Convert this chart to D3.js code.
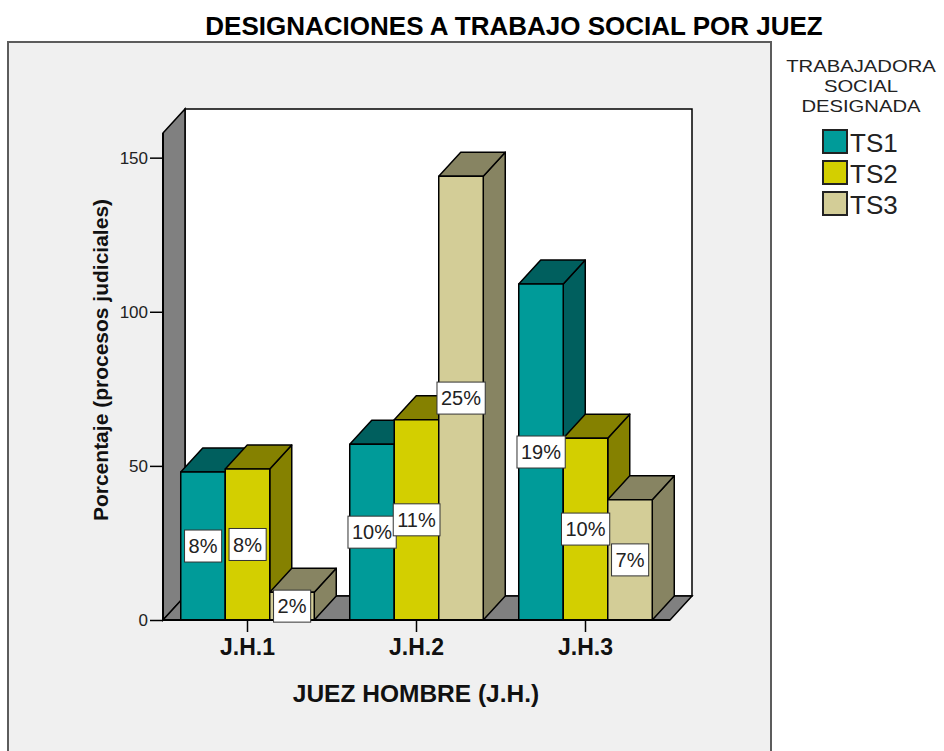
<!DOCTYPE html>
<html>
<head>
<meta charset="utf-8">
<script src="https://cdn.jsdelivr.net/npm/d3@7"></script>
<style>
  body { margin: 0; background: #fff; }
  svg { display: block; font-family: 'Liberation Sans', Arial, sans-serif; }
</style>
</head>
<body>
<div id="chart"></div>
<script>
const judges = ['J.H.1', 'J.H.2', 'J.H.3'];
const workers = ['TS1', 'TS2', 'TS3'];
const ts1 = [48, 57, 109];
const ts2 = [49, 65, 59];
const ts3 = [9, 144, 39];
const yTicks = [0, 50, 100, 150];
const legendTitle = ['TRABAJADORA', 'SOCIAL', 'DESIGNADA'];

const fronts = { TS1: '#009b99', TS2: '#d3cf00', TS3: '#d3cd97' };
const shades = { TS1: '#005f5e', TS2: '#858100', TS3: '#878462' };

function visualize() {
  const width = 944;
  const height = 751;
  const depth = { x: 22, y: 24 };
  const plot = { left: 163, right: 670, top: 133, bottom: 620 };

  const svg = d3.select('#chart').append('svg')
    .attr('width', width)
    .attr('height', height);

  // grey chart frame
  svg.append('rect')
    .attr('x', 8)
    .attr('y', 42)
    .attr('width', 763)
    .attr('height', 730)
    .attr('fill', '#f0f0f0')
    .attr('stroke', '#5c5c5c')
    .attr('stroke-width', 2);

  svg.append('text')
    .attr('x', 514)
    .attr('y', 35)
    .attr('text-anchor', 'middle')
    .attr('font-size', 26)
    .attr('font-weight', 'bold')
    .text('DESIGNACIONES A TRABAJO SOCIAL POR JUEZ');

  const x = d3.scaleBand()
    .domain(judges)
    .range([plot.left, plot.right])
    .paddingInner(0.21)
    .paddingOuter(0.105);
  const xs = d3.scaleBand()
    .domain(workers)
    .range([0, x.bandwidth()]);
  const y = d3.scaleLinear()
    .domain([0, 158])
    .range([plot.bottom, plot.top]);

  const pts = p => p.map(d => d.join(',')).join(' ');
  const y0 = y(0);
  const back = { left: plot.left + depth.x, right: plot.right + depth.x, top: plot.top - depth.y, bottom: y0 - depth.y };

  // walls and floor
  svg.append('polygon')
    .attr('points', pts([[back.left, back.top], [back.right, back.top], [back.right, back.bottom], [back.left, back.bottom]]))
    .attr('fill', '#fff')
    .attr('stroke', '#000')
    .attr('stroke-width', 1.5);
  svg.append('polygon')
    .attr('points', pts([[plot.left, plot.top], [back.left, back.top], [back.left, back.bottom], [plot.left, y0]]))
    .attr('fill', '#808080')
    .attr('stroke', '#000')
    .attr('stroke-width', 1.5);
  svg.append('polygon')
    .attr('points', pts([[plot.left, y0], [back.left, back.bottom], [back.right, back.bottom], [plot.right, y0]]))
    .attr('fill', '#808080')
    .attr('stroke', '#000')
    .attr('stroke-width', 1.5);

  const rows = judges.map((j, i) => ({ judge: j, values: [ts1[i], ts2[i], ts3[i]] }));
  const total = d3.sum(rows, r => d3.sum(r.values));
  const bars = rows.flatMap(r => r.values.map((v, k) => ({
    judge: r.judge,
    worker: workers[k],
    value: v,
    x0: x(r.judge) + xs(workers[k]),
  })));
  const w = xs.bandwidth();

  const bar = svg.append('g')
    .attr('stroke', '#000')
    .attr('stroke-width', 1.5)
    .attr('stroke-linejoin', 'round')
    .selectAll('g')
    .data(bars)
    .enter()
    .append('g');

  bar.append('polygon')
    .attr('fill', d => shades[d.worker])
    .attr('points', d => pts([
      [d.x0 + w, y(d.value)], [d.x0 + w + depth.x, y(d.value) - depth.y],
      [d.x0 + w + depth.x, y0 - depth.y], [d.x0 + w, y0]]));
  bar.append('polygon')
    .attr('fill', d => shades[d.worker])
    .attr('points', d => pts([
      [d.x0, y(d.value)], [d.x0 + depth.x, y(d.value) - depth.y],
      [d.x0 + w + depth.x, y(d.value) - depth.y], [d.x0 + w, y(d.value)]]));
  bar.append('rect')
    .attr('fill', d => fronts[d.worker])
    .attr('x', d => d.x0)
    .attr('y', d => y(d.value))
    .attr('width', w)
    .attr('height', d => y0 - y(d.value));

  // axes
  const yAxis = svg.append('g')
    .attr('transform', `translate(${plot.left},0)`)
    .call(d3.axisLeft(y).tickValues(yTicks).tickSize(13).tickPadding(2));
  yAxis.select('.domain').remove();
  yAxis.selectAll('line').attr('stroke', '#000').attr('stroke-width', 1.5);
  yAxis.selectAll('text')
    .attr('font-size', 17)
    .attr('font-family', 'Liberation Sans, Arial, sans-serif')
    .attr('fill', '#222');

  svg.append('line')
    .attr('x1', plot.left).attr('x2', plot.left)
    .attr('y1', plot.top).attr('y2', y0)
    .attr('stroke', '#000').attr('stroke-width', 2);
  svg.append('line')
    .attr('x1', plot.left).attr('x2', plot.right)
    .attr('y1', y0).attr('y2', y0)
    .attr('stroke', '#000').attr('stroke-width', 2);

  const xAxis = svg.append('g')
    .attr('transform', `translate(0,${y0})`)
    .call(d3.axisBottom(x).tickSize(12).tickPadding(7));
  xAxis.select('.domain').remove();
  xAxis.selectAll('line').attr('stroke', '#000').attr('stroke-width', 1.5);
  xAxis.selectAll('text')
    .attr('font-size', 23)
    .attr('font-weight', 'bold')
    .attr('font-family', 'Liberation Sans, Arial, sans-serif')
    .attr('fill', '#111');

  // percentage labels
  const label = svg.append('g')
    .selectAll('g')
    .data(bars)
    .enter()
    .append('g')
      .attr('transform', d => `translate(${d.x0 + w / 2},${(y(d.value) + y0) / 2})`);
  label.append('text')
    .attr('class', 'pct')
    .attr('text-anchor', 'middle')
    .attr('dy', '0.36em')
    .attr('font-size', 20)
    .attr('fill', '#222')
    .text(d => `${Math.round((d.value / total) * 100)}%`);
  label.each(function () {
    const g = d3.select(this);
    const bb = g.select('text').node().getBBox();
    g.insert('rect', 'text')
      .attr('x', bb.x - 4)
      .attr('y', -16)
      .attr('width', bb.width + 8)
      .attr('height', 32)
      .attr('fill', '#fff')
      .attr('stroke', '#333')
      .attr('stroke-width', 1);
  });

  svg.append('text')
    .attr('x', 416)
    .attr('y', 702)
    .attr('text-anchor', 'middle')
    .attr('font-size', 24.5)
    .attr('font-weight', 'bold')
    .attr('fill', '#111')
    .text('JUEZ HOMBRE (J.H.)');

  svg.append('text')
    .attr('transform', 'translate(108,360) rotate(-90)')
    .attr('text-anchor', 'middle')
    .attr('font-size', 21)
    .attr('font-weight', 'bold')
    .attr('fill', '#111')
    .text('Porcentaje (procesos judiciales)');

  // legend: title is set small and stretched so the tight lines do not collide
  const legend = svg.append('g');
  legend.selectAll('text.title')
    .data(legendTitle)
    .enter()
    .append('text')
      .attr('class', 'title')
      .attr('x', 861)
      .attr('y', (d, i) => 72 + i * 20)
      .attr('text-anchor', 'middle')
      .attr('font-size', 17)
      .attr('fill', '#222')
      .text(d => d)
      .each(function () {
        const len = this.getComputedTextLength();
        d3.select(this)
          .attr('textLength', len * 1.19)
          .attr('lengthAdjust', 'spacingAndGlyphs');
      });
  const item = legend.selectAll('g.item')
    .data(workers)
    .enter()
    .append('g')
      .attr('class', 'item')
      .attr('transform', (d, i) => `translate(823,${130 + i * 31})`);
  item.append('rect')
    .attr('width', 24)
    .attr('height', 23)
    .attr('fill', d => fronts[d])
    .attr('stroke', '#222')
    .attr('stroke-width', 2);
  item.append('text')
    .attr('x', 27)
    .attr('y', 22)
    .attr('font-size', 26)
    .attr('fill', '#222')
    .text(d => d);
}

visualize();
</script>
</body>
</html>
